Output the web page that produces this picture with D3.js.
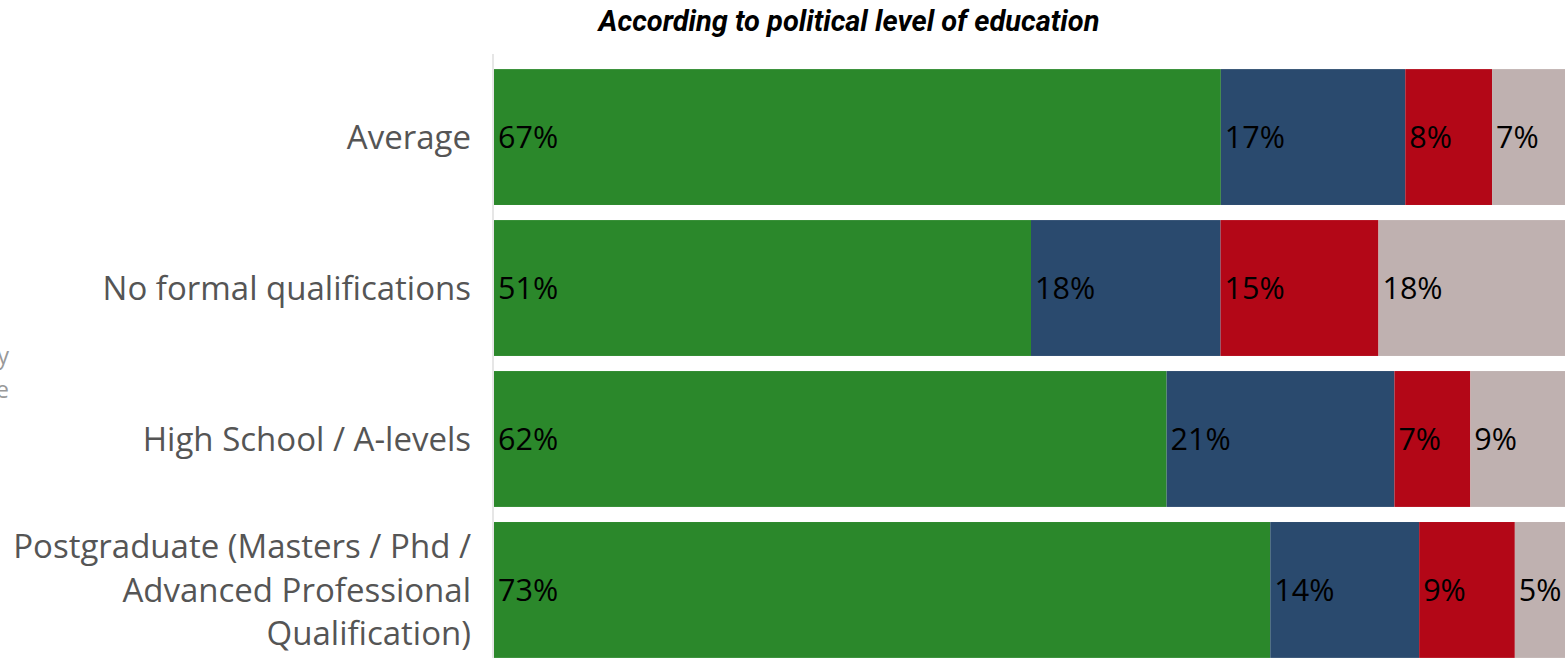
<!DOCTYPE html>
<html><head><meta charset="utf-8">
<script src="https://cdn.jsdelivr.net/npm/d3@7"></script>
<style>
html,body{margin:0;padding:0;background:#fff;overflow:hidden;}
svg{display:block;}
</style></head>
<body>
<svg id="chart" width="1565" height="658"></svg>
<script>
const categories = ["Average", "No formal qualifications", "High School / A-levels", "Postgraduate (Masters / Phd / Advanced Professional Qualification)"];
const categoryLines = [["Average"], ["No formal qualifications"], ["High School / A-levels"], ["Postgraduate (Masters / Phd /", "Advanced Professional", "Qualification)"]];
const seriesNames = ["s1", "s2", "s3", "s4"];
const s1 = [67, 51, 62, 73];
const s2 = [17, 18, 21, 14];
const s3 = [8, 15, 7, 9];
const s4 = [7, 18, 9, 5];
const colors = ["#2b882b", "#2a4a6e", "#b30717", "#bfb1b0"];
const title = "According to political level of education";

const rows = categories.map((c, i) => ({cat: c, s1: s1[i], s2: s2[i], s3: s3[i], s4: s4[i]}));
const stack = d3.stack().keys(seriesNames).offset(d3.stackOffsetExpand);
const layers = stack(rows);

const svg = d3.select("#chart");
const x = d3.scaleLinear().domain([0, 1]).range([494, 1568]);
const y = d3.scaleBand().domain(categories).range([54, 673]).paddingInner(0.1).paddingOuter(0.1);

// clipped side text
const side = svg.append("g").attr("font-family", "'Open Sans', sans-serif").attr("font-size", 23).attr("fill", "#999").attr("text-anchor", "end");
side.append("text").attr("x", 9).attr("y", 364).text("by");
side.append("text").attr("x", 9).attr("y", 398).text("age");

svg.append("text").attr("x", 849).attr("y", 31).attr("text-anchor", "middle")
  .attr("font-family", "Roboto, sans-serif").attr("font-weight", "bold").attr("font-style", "italic")
  .attr("font-size", 29).attr("fill", "#000").text(title);

const g = svg.append("g");
layers.forEach((layer, li) => {
  g.append("g").attr("fill", colors[li]).selectAll("rect").data(layer).join("rect")
    .attr("x", d => x(d[0])).attr("width", d => x(d[1]) - x(d[0]))
    .attr("y", d => y(d.data.cat)).attr("height", y.bandwidth());
  g.append("g").selectAll("text").data(layer).join("text")
    .attr("x", d => x(d[0]) + 4).attr("y", d => y(d.data.cat) + y.bandwidth() / 2)
    .attr("dy", "0.36em")
    .attr("font-family", "'Open Sans', sans-serif").attr("font-size", 30.5).attr("fill", "#000")
    .text(d => d.data[seriesNames[li]] + "%");
});

// axis
svg.append("line").attr("x1", 493).attr("x2", 493).attr("y1", 54).attr("y2", 673)
  .attr("stroke", "#e6e6e6").attr("stroke-width", 2);

const lab = svg.append("g").attr("font-family", "'Open Sans', sans-serif").attr("font-size", 33).attr("fill", "#555").attr("text-anchor", "end");
categories.forEach((c, i) => {
  const lines = categoryLines[i];
  const cy = y(c) + y.bandwidth() / 2;
  const lh = 43.5;
  const t = lab.append("text").attr("x", 471).attr("y", cy);
  lines.forEach((ln, j) => {
    t.append("tspan").attr("x", 471).attr("y", cy + (j - (lines.length - 1) / 2) * lh).attr("dy", "0.36em").text(ln);
  });
});
</script>
</body></html>
